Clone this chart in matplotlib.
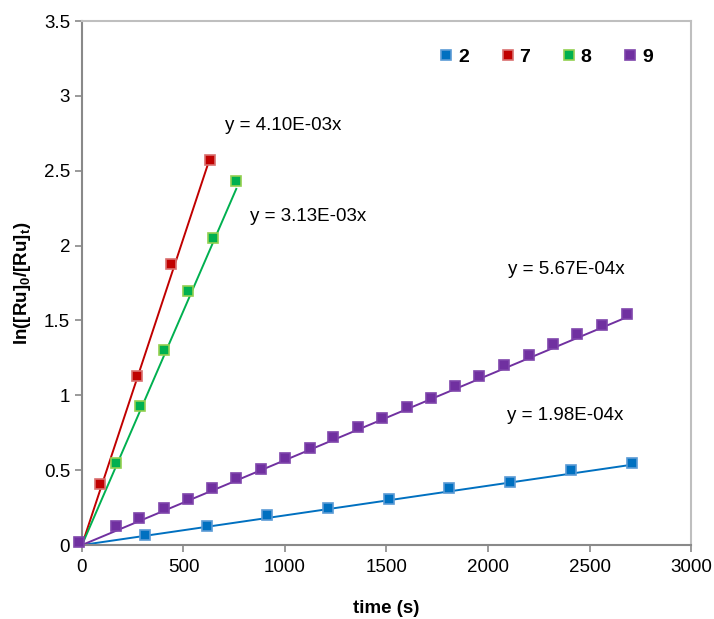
import matplotlib
matplotlib.use("Agg")
import matplotlib.pyplot as plt

plt.rcParams['font.family'] = ['Liberation Sans', 'DejaVu Sans']
plt.rcParams['mathtext.fontset'] = 'custom'
plt.rcParams['mathtext.bf'] = 'Liberation Sans:bold'
plt.rcParams['mathtext.rm'] = 'Liberation Sans'

# series 2
t2 = [310, 615, 910, 1210, 1510, 1810, 2110, 2410, 2710]
y2 = [0.07, 0.13, 0.20, 0.25, 0.31, 0.38, 0.42, 0.50, 0.55]
k2 = 1.98e-4
# series 7
t7 = [90, 270, 440, 630]
y7 = [0.41, 1.13, 1.88, 2.57]
k7 = 4.10e-3
# series 8
t8 = [170, 285, 405, 520, 645, 760]
y8 = [0.55, 0.93, 1.30, 1.70, 2.05, 2.43]
k8 = 3.13e-3
# series 9
t9 = [-15, 167, 283, 404, 522, 640, 759, 882, 1000, 1122, 1237, 1360,
      1478, 1600, 1719, 1838, 1957, 2080, 2202, 2320, 2440, 2562, 2685]
y9 = [0.02, 0.13, 0.18, 0.25, 0.31, 0.38, 0.45, 0.51, 0.58, 0.65, 0.72, 0.79,
      0.85, 0.92, 0.98, 1.06, 1.13, 1.20, 1.27, 1.34, 1.41, 1.47, 1.54]
k9 = 5.67e-4

series = [
    ("2", t2, y2, k2, '#0070C0', '#5b9bd5'),
    ("7", t7, y7, k7, '#C00000', '#d9706f'),
    ("8", t8, y8, k8, '#00B050', '#92D050'),
    ("9", t9, y9, k9, '#7030A0', '#7f45ab'),
]

fig = plt.figure(figsize=(7.14, 6.19), dpi=100)
ax = fig.add_axes([0.1148, 0.1195, 0.853, 0.8465])

for name, t, y, k, col, edge in series:
    tmax = max(t)
    ax.plot([0, tmax], [0, k * tmax], color=col, lw=1.4, zorder=2)
    ax.plot(t, y, linestyle='none', marker='s', ms=7.5, mfc=col, mec=edge,
            mew=1.2, label=name, clip_on=False, zorder=3)

fs = 13.5
ax.text(704, 2.80, "y = 4.10E-03x", fontsize=fs, ha='left', va='center')
ax.text(828, 2.195, "y = 3.13E-03x", fontsize=fs, ha='left', va='center')
ax.text(2098, 1.84, "y = 5.67E-04x", fontsize=fs, ha='left', va='center')
ax.text(2094, 0.863, "y = 1.98E-04x", fontsize=fs, ha='left', va='center')

ax.set_xlim(0, 3000)
ax.set_ylim(0, 3.5)
ax.set_xticks(range(0, 3001, 500))
ax.set_yticks([0, 0.5, 1, 1.5, 2, 2.5, 3, 3.5])
ax.set_yticklabels(["0", "0.5", "1", "1.5", "2", "2.5", "3", "3.5"])
ax.tick_params(labelsize=fs, length=5, width=1.2, color='#898989', direction='out')
ax.tick_params(axis='x', pad=5)
for s in ['left', 'bottom']:
    ax.spines[s].set_color('#898989')
    ax.spines[s].set_linewidth(1.5)
for s in ['top', 'right']:
    ax.spines[s].set_color('#bfbfbf')
    ax.spines[s].set_linewidth(1.5)

ax.set_xlabel("time (s)", fontsize=13.5, fontweight='bold', labelpad=17)
ax.set_ylabel(r"ln([Ru]$\mathbf{_0}$/[Ru]$\mathbf{_t}$)", fontsize=13.5,
              fontweight='bold', labelpad=8)

leg = ax.legend(ncol=4, loc='upper right', bbox_to_anchor=(0.966, 0.982),
                frameon=False, handlelength=0.6, handletextpad=0.3,
                columnspacing=1.7, prop={'weight': 'bold', 'size': 14})

fig.savefig("out.png", dpi=100)
